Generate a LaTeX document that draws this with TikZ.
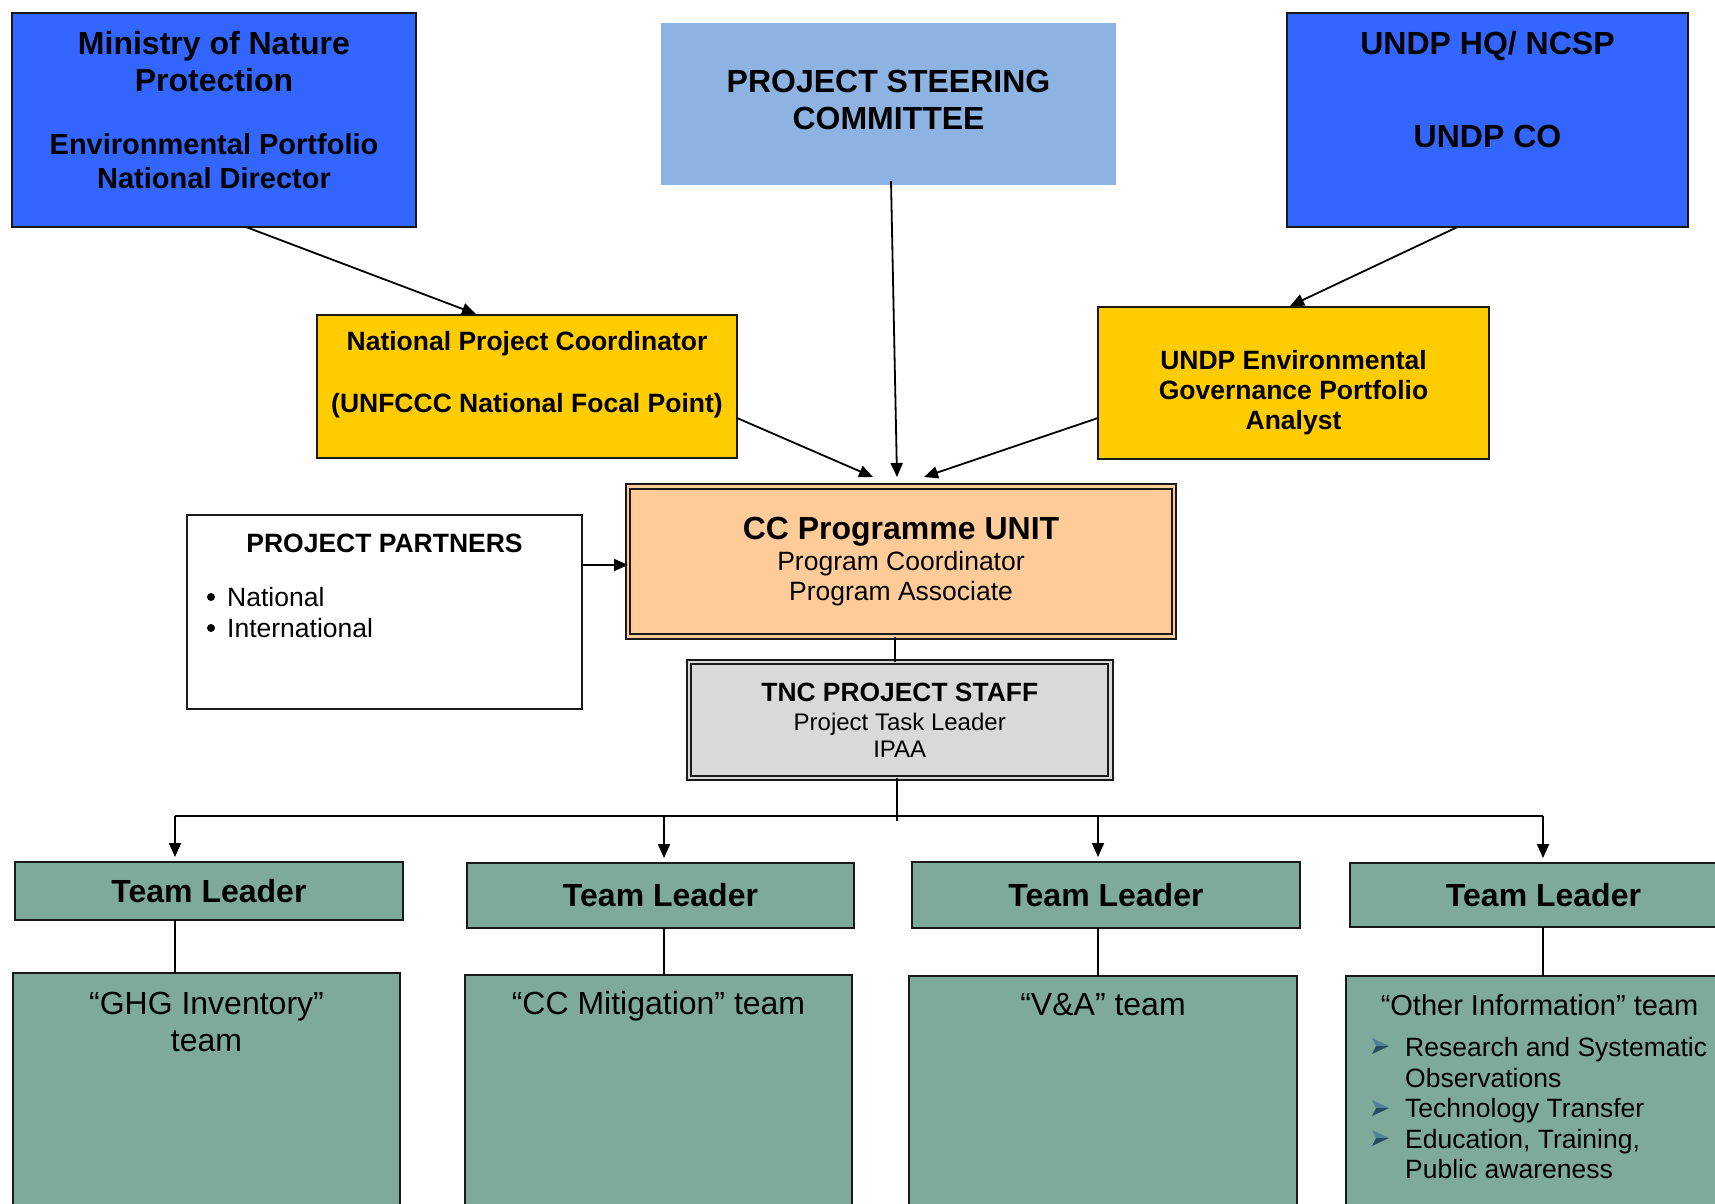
\documentclass[tikz,border=0pt]{standalone}
\usepackage{fontspec}
\setmainfont{Liberation Sans}
\usetikzlibrary{arrows.meta, positioning, calc}
\definecolor{ministryblue}{HTML}{3366FF}
\definecolor{steerblue}{HTML}{8DB3E2}
\definecolor{focalyellow}{HTML}{FFCC00}
\definecolor{unitpeach}{HTML}{FFCC99}
\definecolor{staffgray}{HTML}{D9D9D9}
\definecolor{teamgreen}{HTML}{7EAA9C}
\definecolor{bulletblue}{HTML}{244B5E}
\definecolor{bulletlight}{HTML}{4F8299}

\begin{document}
\begin{tikzpicture}[
    x=1pt, y=-1pt,
    box/.style={draw=black!90, line width=1.8pt, outer sep=0pt, inner sep=0pt},
    top box/.style={box, fill=ministryblue},
    focal box/.style={box, fill=focalyellow},
    team box/.style={box, fill=teamgreen},
    unit box/.style={draw=black!90, line width=2.2pt, double distance=2.2pt, outer sep=0pt, inner sep=0pt, align=center},
    box text/.style={inner sep=0pt, align=center},
    head font/.style={font=\fontsize{32}{37}\selectfont\bfseries},
    mid font/.style={font=\fontsize{26.5}{30}\selectfont\bfseries},
    list font/.style={font=\fontsize{26.5}{31}\selectfont},
    team font/.style={font=\fontsize{32}{37}\selectfont},
    arrow/.style={-{Triangle[length=14pt,width=12pt]}, line width=1.8pt},
    link/.style={line width=1.6pt}
]
\useasboundingbox (0,0) rectangle (1715,1203);
\clip (0,0) rectangle (1715,1203);
\fill[white] (0,0) rectangle (1715,1203);

% Top row
\node[top box, minimum width=404pt, minimum height=214pt] (mnp) at (214,120) {};
\node[box text, head font, below=18.5pt of mnp.north] (mnp text)
    {Ministry of Nature\\Protection\\[26pt]{\fontsize{29}{34}\selectfont Environmental Portfolio}\\[-3pt]{\fontsize{29}{34}\selectfont National Director}};

\node[fill=steerblue, outer sep=0pt, minimum width=455pt, minimum height=162pt] (psc) at (888.5,104) {};
\node[box text, head font, below=46.5pt of psc.north] (psc text)
    {PROJECT STEERING\\COMMITTEE};

\node[top box, minimum width=401pt, minimum height=214pt] (undp) at (1487.5,120) {};
\node[box text, head font, below=18.5pt of undp.north] (undp text)
    {UNDP HQ/ NCSP\\[56pt]UNDP CO};

% Focal points
\node[focal box, minimum width=420pt, minimum height=143pt] (npc) at (527,386.5) {};
\node[box text, mid font, below=16.5pt of npc.north] (npc text)
    {National Project Coordinator\\[32pt](UNFCCC National Focal Point)};

\node[focal box, minimum width=391pt, minimum height=152pt] (env) at (1293.5,383) {};
\node[box text, mid font, below=43.5pt of env.north] (env text)
    {UNDP Environmental\\Governance Portfolio\\Analyst};

% Programme unit and staff
\node[unit box, double=unitpeach, fill=unitpeach, minimum width=546pt, minimum height=150pt,
      font=\fontsize{26.5}{30}\selectfont] (ccu) at (901,561.5)
    {{\fontsize{32}{36}\selectfont\bfseries CC Programme UNIT}\\[1.5pt]Program Coordinator\\Program Associate};

\node[unit box, double=staffgray, fill=staffgray, line width=2pt, minimum width=421.5pt, minimum height=116pt,
      font=\fontsize{24}{27}\selectfont] (tnc) at (899.75,720)
    {{\fontsize{26.4}{30}\selectfont\bfseries TNC PROJECT STAFF}\\[2pt]Project Task Leader\\IPAA};

% Partners
\node[box, fill=white, minimum width=395pt, minimum height=194pt] (pp) at (384.5,612) {};
\node[box text, mid font, below=18.5pt of pp.north] (pp title) {PROJECT PARTNERS};
\node[box text, list font, align=left, below right=72.5pt and 40pt of pp.north west] (pp list)
    {National\\International};
\fill (211,597) circle (4);
\fill (211,628) circle (4);

% Team leaders and teams
\node[team box, minimum width=388pt, minimum height=58pt, head font] (tl1) at (209,891) {Team Leader};
\node[team box, minimum width=387pt, minimum height=65pt, head font] (tl2) at (660.5,895.5) {Team Leader};
\node[team box, minimum width=388pt, minimum height=66pt, head font] (tl3) at (1106,895) {Team Leader};
\node[team box, minimum width=387pt, minimum height=64pt, head font] (tl4) at (1543.5,895) {Team Leader};

\node[team box, minimum width=387pt, minimum height=257pt] (gt1) at (206.5,1101.5) {};
\node[team box, minimum width=387pt, minimum height=257pt] (gt2) at (658.5,1103.5) {};
\node[team box, minimum width=388pt, minimum height=257pt] (gt3) at (1103,1104.5) {};
\node[team box, minimum width=387pt, minimum height=257pt] (gt4) at (1539.5,1104.5) {};

\node[box text, team font, below=18.5pt of gt1.north] (gt1 text) {“GHG Inventory”\\team};
\node[box text, team font, below=16.5pt of gt2.north] (gt2 text) {“CC Mitigation” team};
\node[box text, team font, below=17.5pt of gt3.north] (gt3 text) {“V\&A” team};
\node[box text, font=\fontsize{29}{34}\selectfont, below=18.5pt of gt4.north] (gt4 text) {“Other Information” team};
\node[box text, font=\fontsize{26.5}{30.5}\selectfont, align=left, below right=61.5pt and 59pt of gt4.north west] (gt4 list)
    {Research and Systematic\\Observations\\Technology Transfer\\Education, Training,\\Public awareness};
\foreach \yy in {1046,1108,1138} {
    \fill[bulletlight] (1372,\yy-8) -- (1389,\yy) -- (1376,\yy) -- cycle;
    \fill[bulletblue] (1372,\yy+8) -- (1389,\yy) -- (1376,\yy) -- cycle;
}

% Arrows into the focal points
\draw[arrow] ([xshift=32pt]mnp.south) -- ([xshift=-51pt, yshift=1pt]npc.north);
\draw[arrow] ([xshift=-30pt]undp.south) -- ([xshift=-3.5pt, yshift=1pt]env.north);

% Arrows into the unit
\draw[arrow] ([xshift=2.5pt, yshift=4pt]psc.south) -- ([xshift=-4pt, yshift=9.5pt]ccu.north);
\draw[arrow] ([yshift=-31.5pt]npc.east) -- ([xshift=-28pt, yshift=9.5pt]ccu.north);
\draw[arrow] ([yshift=-35pt]env.west) -- ([xshift=23pt, yshift=9.5pt]ccu.north);
\coordinate (pp out) at ([yshift=47pt]pp.east);
\draw[arrow] (pp out) -- (pp out -| ccu.west);

% Unit down to the teams
\coordinate (unit foot) at ([xshift=-6pt]ccu.south);
\draw[link] (unit foot) -- (unit foot |- tnc.north);
\coordinate (staff foot) at ([xshift=-3pt]tnc.south);
\coordinate (bus drop) at (897,821);
\draw[link] (staff foot) -- (staff foot |- bus drop);
\coordinate (col1) at (175,816);
\coordinate (col2) at (664,816);
\coordinate (col3) at (1098,816);
\coordinate (col4) at (1543,816);
\draw[link, line width=1.8pt] (col1) -- (col4);
\foreach \i in {1,...,4} {
    \draw[arrow, shorten >=5pt] (col\i) -- (col\i |- tl\i.north);
    \draw[link] (tl\i.south -| col\i) -- (gt\i.north -| col\i);
}
\end{tikzpicture}
\end{document}
